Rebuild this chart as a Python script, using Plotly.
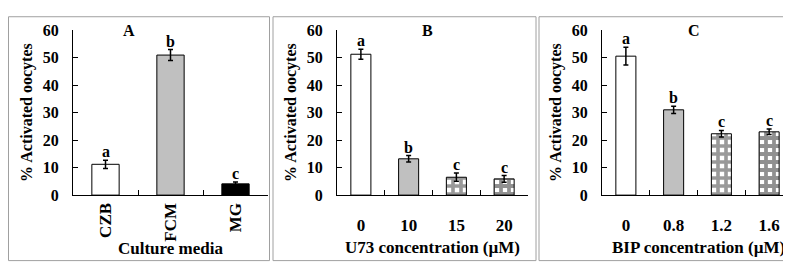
import plotly.graph_objects as go

# Panel A
a_cats = ["CZB", "FCM", "MG"]
a_vals = [11.2, 50.9, 4.1]
a_errs = [1.5, 2.0, 0.7]
a_letters = ["a", "b", "c"]

# Panel B
b_cats = ["0", "10", "15", "20"]
b_vals = [51.2, 13.2, 6.5, 5.9]
b_errs = [1.8, 1.2, 1.5, 1.2]
b_letters = ["a", "b", "c", "c"]

# Panel C
c_cats = ["0", "0.8", "1.2", "1.6"]
c_vals = [50.5, 31.0, 22.3, 23.0]
c_errs = [3.2, 1.3, 1.2, 1.0]
c_letters = ["a", "b", "c", "c"]

y_ticks = [0, 10, 20, 30, 40, 50, 60]
panel_titles = ["A", "B", "C"]
x_titles = ["Culture media", "U73 concentration (µM)", "BIP concentration (µM)"]
y_title = "% Activated oocytes"

FONT = "Liberation Serif"
W, H = 791, 263

def px_x(p):
    return p / W

def px_y(p):
    return 1 - p / H

STYLES = {
    "white": dict(color="white"),
    "grey": dict(color="#c0c0c0"),
    "black": dict(color="black"),
    "check": dict(color="white", pattern=dict(shape="+", fgcolor="#333333", bgcolor="white",
                                              size=8, solidity=0.7)),
    "check2": dict(color="white", pattern=dict(shape="+", fgcolor="#222222", bgcolor="white",
                                               size=8, solidity=0.72)),
}
a_styles = ["white", "grey", "black"]
b_styles = ["white", "grey", "check", "check2"]
c_styles = ["white", "grey", "check", "check2"]

fig = go.Figure()

panels = [
    (a_cats, a_vals, a_errs, a_letters, a_styles),
    (b_cats, b_vals, b_errs, b_letters, b_styles),
    (c_cats, c_vals, c_errs, c_letters, c_styles),
]

annotations = []
for i, (cats, vals, errs, letters, styles) in enumerate(panels):
    sfx = "" if i == 0 else str(i + 1)
    for j, (c, v, e, l, s) in enumerate(zip(cats, vals, errs, letters, styles)):
        st = STYLES[s]
        marker = dict(color=st["color"], line=dict(color="black", width=1))
        if "pattern" in st:
            marker["pattern"] = st["pattern"]
        fig.add_trace(go.Bar(
            x=[j], y=[v], width=0.42,
            error_y=dict(type="data", array=[e], color="black", thickness=1.5, width=2.5),
            marker=marker, xaxis="x" + sfx, yaxis="y" + sfx, showlegend=False,
        ))
        annotations.append(dict(x=j, y=v + e, xref="x" + sfx, yref="y" + sfx,
                                text="<b>" + l + "</b>", showarrow=False, yanchor="bottom", yshift=-2,
                                font=dict(family=FONT, size=16, color="black")))

x_doms = [(65, 260), (329, 520), (594, 785)]
y_dom = (px_y(191.5), px_y(15))

for i, (x0, x1) in enumerate(x_doms):
    sfx = "" if i == 0 else str(i + 1)
    cats = panels[i][0]
    n = len(cats)
    fig.layout["xaxis" + sfx] = dict(
        domain=[px_x(x0), px_x(x1)], anchor="y" + sfx, range=[-0.5, n - 0.5],
        tickvals=list(range(n)), ticktext=["<b>" + c + "</b>" for c in cats],
        showline=True, linecolor="black", linewidth=1,
        ticks="", showgrid=False, zeroline=False, fixedrange=True,
        tickfont=dict(family=FONT, size=17, color="black"),
        tickangle=-90 if i == 0 else 0,
        ticklabelstandoff=0 if i == 0 else 14,
        minor=dict(tickvals=[k + 0.5 for k in range(n - 1)], ticks="inside", ticklen=5,
                   tickcolor="black", showgrid=False),
    )
    fig.layout["yaxis" + sfx] = dict(
        domain=list(y_dom), anchor="x" + sfx, range=[0, 60],
        tickvals=y_ticks, ticktext=["<b>%d</b>" % t for t in y_ticks],
        showline=True, linecolor="black", linewidth=1,
        ticks="inside", ticklen=5, tickcolor="black",
        tickfont=dict(family=FONT, size=16, color="black"),
        ticklabelstandoff=10,
        title=dict(text="<b>" + y_title + "</b>", font=dict(family=FONT, size=16, color="black"),
                   standoff=6),
        showgrid=False, zeroline=False, fixedrange=True,
    )

x_title_pos = [(162, 249), (425, 247), (690, 247)]
for t, (px, py) in zip(x_titles, x_title_pos):
    annotations.append(dict(x=px_x(px), y=px_y(py), xref="paper", yref="paper",
                            text="<b>" + t + "</b>", showarrow=False, xanchor="center", yanchor="middle",
                            font=dict(family=FONT, size=17, color="black")))

panel_x = [121, 419, 686]
for t, px in zip(panel_titles, panel_x):
    annotations.append(dict(x=px_x(px), y=px_y(16), xref="paper", yref="paper",
                            text="<b>" + t + "</b>", showarrow=False, xanchor="center", yanchor="middle",
                            font=dict(family=FONT, size=16, color="black")))

frames = [(0.5, 261.5), (265, 528), (531, 790)]
shapes = []
for x0, x1 in frames:
    shapes.append(dict(type="rect", xref="paper", yref="paper",
                       x0=px_x(x0), x1=px_x(x1), y0=px_y(261.5), y1=px_y(0.8),
                       line=dict(color="#a0a0a0", width=1)))

fig.update_layout(
    width=W, height=H, margin=dict(l=0, r=0, t=0, b=0),
    paper_bgcolor="white", plot_bgcolor="white",
    barmode="overlay", annotations=annotations, shapes=shapes,
    showlegend=False,
)
fig.write_html("out.html", config={"displayModeBar": False})
